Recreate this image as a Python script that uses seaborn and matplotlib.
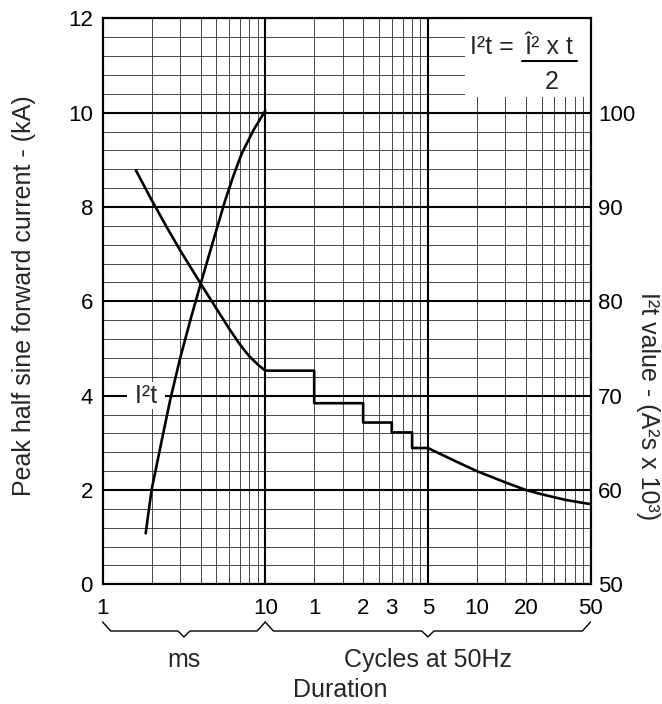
import matplotlib
matplotlib.use("Agg")
import matplotlib.pyplot as plt
from matplotlib.patches import Rectangle
from matplotlib.ticker import FixedLocator, LogLocator, MultipleLocator, NullFormatter
import numpy as np
import pandas as pd
import seaborn as sns

sns.set_theme(style="white")
plt.rcParams["font.family"] = ["Liberation Sans", "DejaVu Sans"]

# Peak half sine forward current (kA) against duration (ms)
sine_ms = [1.6, 2.0, 2.5, 3.0, 4.0, 5.0, 6.0, 7.0, 8.0, 9.0, 10.0]
sine_ka = [8.78, 8.15, 7.55, 7.08, 6.38, 5.85, 5.42, 5.08, 4.83, 4.66, 4.53]
# whole cycles at 50Hz (20 ms each)
step_ms = [10, 20, 20, 40, 40, 60, 60, 80, 80, 100]
step_ka = [4.53, 4.53, 3.84, 3.84, 3.43, 3.43, 3.22, 3.22, 2.89, 2.89]
tail_ms = [100, 150, 200, 300, 400, 500, 700, 1000]
tail_ka = [2.89, 2.60, 2.40, 2.16, 2.00, 1.91, 1.79, 1.70]

# I2t value (A2s x 10^3) against duration (ms)
i2t_ms = [1.84, 2.0, 2.3, 2.6, 3.0, 3.5, 4.03, 4.6, 5.67, 6.4, 7.18, 8.5, 10.0]
i2t_val = [55.4, 60.0, 65.1, 69.5, 74.0, 78.3, 82.0, 85.4, 90.7, 93.4, 95.7, 98.2, 100.2]

tick_ms = [1, 10, 20, 40, 60, 100, 200, 400, 1000]
tick_labels = ["1", "10", "1", "2", "3", "5", "10", "20", "50"]
left_ticks = [0, 2, 4, 6, 8, 10, 12]
right_ticks = [50, 60, 70, 80, 90, 100]

peak = pd.DataFrame({
    "ms": sine_ms + step_ms + tail_ms,
    "ka": sine_ka + step_ka + tail_ka,
})

fig, ax = plt.subplots(figsize=(6.62, 7.04), dpi=100)
fig.subplots_adjust(left=0.155, right=0.892, bottom=0.170, top=0.974)

sns.lineplot(data=peak, x="ms", y="ka", ax=ax, estimator=None, sort=False,
             color="black", lw=1.9, zorder=3)
ax.set_xscale("log")
ax.set_xlim(1, 1000)
ax.set_ylim(0, 12)

# grid
ax.xaxis.set_major_locator(FixedLocator(tick_ms))
ax.set_xticklabels(tick_labels)
ax.xaxis.set_minor_locator(LogLocator(base=10, subs=range(2, 10), numticks=20))
ax.xaxis.set_minor_formatter(NullFormatter())
ax.set_yticks(left_ticks)
ax.yaxis.set_minor_locator(MultipleLocator(0.4))
ax.set_axisbelow(True)
ax.grid(which="minor", axis="both", color="#2a2a2a", lw=0.6)
ax.grid(which="major", axis="x", color="#2a2a2a", lw=0.6)
ax.grid(which="major", axis="y", color="black", lw=1.5)
for v in (10, 100):
    ax.axvline(v, color="black", lw=1.5, zorder=0.6)

ax.tick_params(axis="both", which="both", length=0, labelsize=16, colors="black")
ax.tick_params(axis="x", pad=10)
ax.tick_params(axis="y", pad=7)
for s in ax.spines.values():
    s.set_color("black")
    s.set_linewidth(1.5)

# I2t on the right axis
ax2 = ax.twinx()
sns.lineplot(x=i2t_ms, y=i2t_val, ax=ax2, estimator=None, sort=False,
             color="black", lw=1.9)
ax2.set_ylim(50, 110)
ax2.set_yticks(right_ticks)
ax2.tick_params(axis="y", length=0, labelsize=16, pad=5.5, colors="black")
for s in ax2.spines.values():
    s.set_color("black")
    s.set_linewidth(1.5)

ax.set_ylabel("Peak half sine forward current - (kA)", fontsize=18, va="center")
ax.yaxis.set_label_coords(-0.161, 0.51)
ax2.set_ylabel("I²t value - (A²s x 10³)", fontsize=18, rotation=-90, va="center")
ax2.yaxis.set_label_coords(1.117, 0.315)
ax.set_xlabel("Duration", fontsize=18, va="center")
ax.xaxis.set_label_coords(0.488, -0.187)

# formula box
ax.add_patch(Rectangle((0.742, 0.861), 0.258, 0.139, transform=ax.transAxes,
                       facecolor="white", edgecolor="none", zorder=0.8))
ax.text(0.7527, 0.9498, "I²t =", transform=ax.transAxes, fontsize=18,
        ha="left", va="center")
ax.text(0.9146, 0.9498, "Î² x t", transform=ax.transAxes, fontsize=18,
        ha="center", va="center")
ax.plot([0.8586, 0.9713], [0.9246, 0.9246], transform=ax.transAxes,
        color="black", lw=1.5)
ax.text(0.920, 0.888, "2", transform=ax.transAxes, fontsize=18,
        ha="center", va="center")

# curve label
ax.text(1.85, 4.0, " I²t ", fontsize=18, ha="center", va="center", zorder=1,
        bbox=dict(boxstyle="square,pad=0.05", facecolor="white", edgecolor="none"))

# braces under the axis
xt = ax.get_xaxis_transform()


def brace(x0, x1, y_top=-0.0666, y_mid=-0.0825, y_tip=-0.093):
    lx0, lx1 = np.log10(x0), np.log10(x1)
    lm = (lx0 + lx1) / 2
    xs = 10 ** np.array([lx0, lx0 + 0.05, lm - 0.037, lm, lm + 0.037, lx1 - 0.05, lx1])
    ys = [y_top, y_mid, y_mid, y_tip, y_mid, y_mid, y_top]
    ax.plot(xs, ys, transform=xt, clip_on=False, color="black", lw=1.0)
    return 10 ** lm


mid_ms = brace(1, 10)
mid_cyc = brace(10, 1000)
ax.text(mid_ms, -0.134, "ms", transform=xt, fontsize=18, ha="center", va="center")
ax.text(mid_cyc, -0.134, "Cycles at 50Hz", transform=xt, fontsize=18,
        ha="center", va="center")

fig.savefig("out.png", dpi=100)
